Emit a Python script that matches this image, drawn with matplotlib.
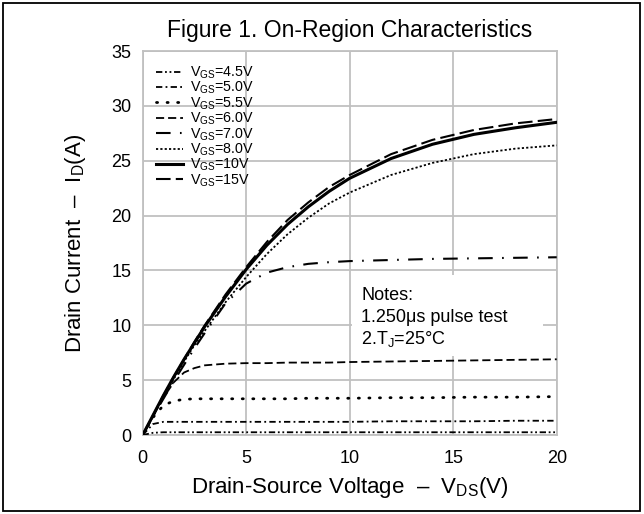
import matplotlib
matplotlib.use("Agg")
import matplotlib.pyplot as plt
from matplotlib.patches import Rectangle

plt.rcParams['font.family'] = ['Liberation Sans', 'DejaVu Sans']
plt.rcParams['mathtext.fontset'] = 'custom'
plt.rcParams['mathtext.rm'] = 'Liberation Sans'
plt.rcParams['mathtext.it'] = 'Liberation Sans'

# drain-source voltage points (V)
vds = [0, 0.5, 1, 1.5, 2, 2.5, 3, 4, 5, 6, 7, 8, 9, 10, 12, 14, 16, 18, 20]

# drain current (A) per gate voltage
id_45 = [0, 0.2, 0.25, 0.25, 0.25, 0.25, 0.25, 0.25, 0.25, 0.25, 0.25, 0.25, 0.25, 0.25, 0.25, 0.25, 0.25, 0.25, 0.25]
id_50 = [0, 1.0, 1.2, 1.2, 1.2, 1.2, 1.2, 1.2, 1.2, 1.2, 1.2, 1.2, 1.2, 1.2, 1.25, 1.25, 1.25, 1.3, 1.3]
id_55 = [0, 1.6, 2.7, 3.1, 3.25, 3.3, 3.3, 3.3, 3.3, 3.3, 3.3, 3.35, 3.35, 3.35, 3.4, 3.4, 3.45, 3.45, 3.5]
id_60 = [0, 1.7, 3.4, 4.8, 5.7, 6.1, 6.35, 6.5, 6.55, 6.55, 6.6, 6.6, 6.6, 6.65, 6.7, 6.75, 6.8, 6.85, 6.9]
id_70 = [0, 1.7, 3.3, 4.9, 6.4, 7.9, 9.3, 12.0, 13.8, 14.8, 15.3, 15.6, 15.75, 15.85, 15.95, 16.05, 16.1, 16.15, 16.2]
id_80 = [0, 1.75, 3.5, 5.1, 6.7, 8.2, 9.5, 12.1, 14.4, 16.5, 18.3, 19.8, 21.1, 22.1, 23.7, 24.8, 25.6, 26.1, 26.4]
id_100 = [0, 1.8, 3.6, 5.3, 6.9, 8.4, 9.9, 12.6, 15.1, 17.3, 19.2, 20.8, 22.2, 23.4, 25.2, 26.5, 27.4, 28.0, 28.5]
id_150 = [0, 1.8, 3.6, 5.3, 6.9, 8.5, 10.0, 12.8, 15.3, 17.6, 19.6, 21.2, 22.6, 23.7, 25.6, 26.9, 27.8, 28.4, 28.8]

labels = ['V$_{\\mathrm{GS}}$=4.5V', 'V$_{\\mathrm{GS}}$=5.0V', 'V$_{\\mathrm{GS}}$=5.5V',
          'V$_{\\mathrm{GS}}$=6.0V', 'V$_{\\mathrm{GS}}$=7.0V', 'V$_{\\mathrm{GS}}$=8.0V',
          'V$_{\\mathrm{GS}}$=10V', 'V$_{\\mathrm{GS}}$=15V']
currents = [id_45, id_50, id_55, id_60, id_70, id_80, id_100, id_150]
styles = [
    dict(lw=1.3, ls=(0, (3.5, 1.5, 1, 1.5, 1, 1.5))),
    dict(lw=1.3, ls=(0, (3.5, 1.8, 1, 1.8))),
    dict(lw=2.0, ls=(0, (0.4, 3.4)), dash_capstyle='round'),
    dict(lw=1.3, ls=(0, (4.5, 2.2))),
    dict(lw=1.5, ls=(0, (7, 4.5, 0.8, 4.5))),
    dict(lw=1.3, ls=(0, (1.2, 1.2))),
    dict(lw=2.2, ls='-'),
    dict(lw=1.5, ls=(0, (7, 2.5))),
]

fig = plt.figure(figsize=(6.44, 5.14), dpi=100)
ax = fig.add_axes([142.7 / 644, 1 - 435 / 514, 414 / 644, 384 / 514])

for y, lab, st in zip(currents, labels, styles):
    ax.plot(vds, y, color='black', label=lab, zorder=3, **st)

ax.set_xlim(0, 20)
ax.set_ylim(0, 35)
ax.set_xticks([0, 5, 10, 15, 20])
ax.set_yticks(range(0, 36, 5))
ax.set_axisbelow(True)
ax.grid(True, color='#c0c0c0', lw=1.3)
for s in ax.spines.values():
    s.set_color('#c0c0c0')
    s.set_linewidth(1.3)
ax.tick_params(length=0, labelsize=13)
ax.tick_params(axis='x', pad=11)
ax.tick_params(axis='y', pad=8)

ax.set_xlabel('Drain-Source Voltage  \u2013  V$_{\\mathrm{DS}}$(V)', fontsize=16)
ax.xaxis.set_label_coords(0.5, -0.105)
ax.set_ylabel('Drain Current  \u2013  I$_{\\mathrm{D}}$(A)', fontsize=16)
ax.yaxis.set_label_coords(-0.132, 0.5)

ax.legend(loc='upper left', frameon=False, fontsize=10.3, handlelength=1.9,
          handletextpad=0.45, labelspacing=-0.07, borderaxespad=0.3,
          borderpad=0.65)

# notes box covering the grid
ax.add_patch(Rectangle((10.1, 7.2), 9.25, 7.4, facecolor='white',
                       edgecolor='none', zorder=1))
ax.text(10.55, 12.7, 'Notes:', fontsize=13, va='center', zorder=2)
ax.text(10.55, 10.7, '1.250\u03bcs pulse test', fontsize=13, va='center', zorder=2)
ax.text(10.55, 8.75, '2.T$_{\\mathrm{J}}$=25\u00b0C', fontsize=13, va='center', zorder=2)

fig.text(ax.get_position().x0 + ax.get_position().width / 2, 1 - 30 / 514,
         'Figure 1. On-Region Characteristics', fontsize=16.5, ha='center', va='center')

fig.patches.append(Rectangle((3 / 644, 3 / 514), 637 / 644, 508 / 514,
                             transform=fig.transFigure, fill=False,
                             edgecolor='black', lw=1.3))

fig.savefig('out.png', dpi=100)
